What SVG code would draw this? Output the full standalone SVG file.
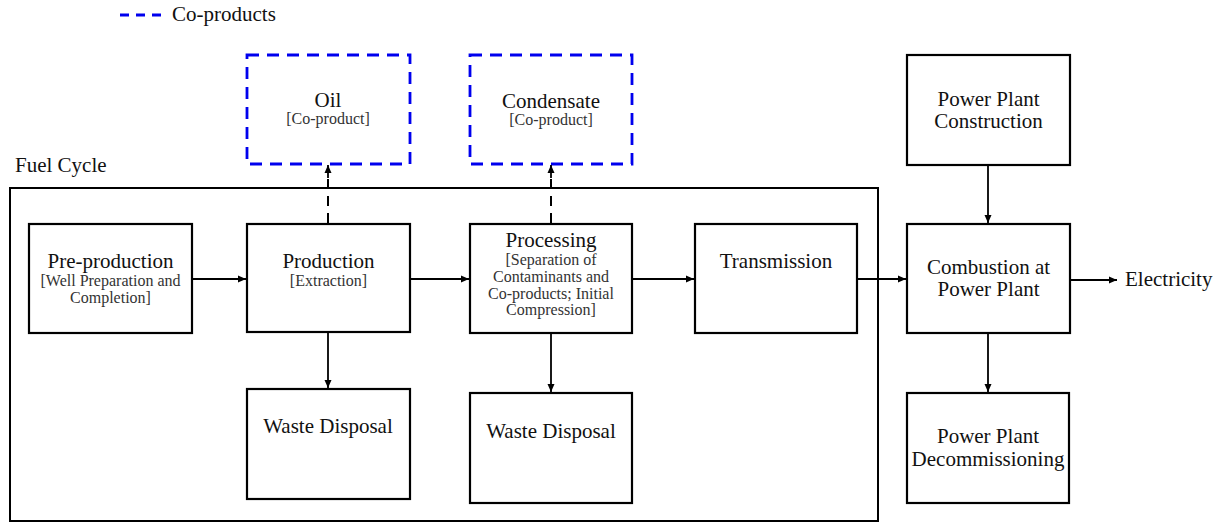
<svg xmlns="http://www.w3.org/2000/svg" width="1220" height="523" viewBox="0 0 1220 523" font-family="'Liberation Serif', 'Times New Roman', serif">
<style>
.box{fill:#fff;stroke:#000;stroke-width:2.2}
.co{fill:none;stroke:#0000ee;stroke-width:2.8;stroke-dasharray:12 8}
.frame{fill:none;stroke:#000;stroke-width:2}
text{font-family:'Liberation Serif','Times New Roman',serif}
.t{font-size:21px;fill:#111;text-anchor:middle}
.s{font-size:16px;fill:#333;text-anchor:middle}
.l{font-size:21px;fill:#111}
.c{fill:none;stroke:#000;stroke-width:1.8}
.d{fill:none;stroke:#000;stroke-width:2;stroke-dasharray:10 7}
</style>
<defs>
<marker id="ah" markerWidth="8" markerHeight="8" refX="8" refY="4" orient="auto" markerUnits="userSpaceOnUse">
<path d="M0,0.5 L8,4 L0,7.5 Z" fill="#000"/>
</marker>
</defs>

<g id="legend">
<line x1="120" y1="15" x2="162" y2="15" stroke="#0000ee" stroke-width="3" stroke-dasharray="9 7"/>
<text class="l" x="172" y="21">Co-products</text>
</g>

<g id="fuel-cycle">
<rect class="frame" x="10" y="188" width="868" height="333"/>
<text class="l" x="15" y="172">Fuel Cycle</text>
</g>

<g id="oil">
<rect class="co" x="247" y="55" width="163" height="109"/>
<text class="t" x="328" y="107">Oil</text>
<text class="s" x="328" y="124">[Co-product]</text>
</g>

<g id="condensate">
<rect class="co" x="470" y="55" width="162" height="109"/>
<text class="t" x="551" y="108">Condensate</text>
<text class="s" x="551" y="125">[Co-product]</text>
</g>

<g id="preproduction">
<rect class="box" x="29" y="224" width="163" height="109"/>
<text class="t" x="110.5" y="268">Pre-production</text>
<text class="s" x="110.5" y="286">[Well Preparation and</text>
<text class="s" x="110.5" y="303">Completion]</text>
</g>

<g id="production">
<rect class="box" x="247" y="224" width="163" height="108"/>
<text class="t" x="328.5" y="268">Production</text>
<text class="s" x="328.5" y="286">[Extraction]</text>
</g>

<g id="processing">
<rect class="box" x="470" y="224" width="162" height="109"/>
<text class="t" x="551" y="247">Processing</text>
<text class="s" x="551" y="265">[Separation of</text>
<text class="s" x="551" y="282">Contaminants and</text>
<text class="s" x="551" y="299">Co-products; Initial</text>
<text class="s" x="551" y="315">Compression]</text>
</g>

<g id="transmission">
<rect class="box" x="695" y="224" width="162" height="109"/>
<text class="t" x="776" y="268">Transmission</text>
</g>

<g id="waste1">
<rect class="box" x="247" y="389" width="163" height="110"/>
<text class="t" x="328" y="433">Waste Disposal</text>
</g>

<g id="waste2">
<rect class="box" x="470" y="393" width="162" height="110"/>
<text class="t" x="551" y="438">Waste Disposal</text>
</g>

<g id="construction">
<rect class="box" x="907" y="55" width="163" height="110"/>
<text class="t" x="988.5" y="106">Power Plant</text>
<text class="t" x="988.5" y="128">Construction</text>
</g>

<g id="combustion">
<rect class="box" x="907" y="224" width="163" height="109"/>
<text class="t" x="988.5" y="274">Combustion at</text>
<text class="t" x="988.5" y="296">Power Plant</text>
</g>

<g id="decommissioning">
<rect class="box" x="907" y="393" width="162" height="110"/>
<text class="t" x="988" y="443">Power Plant</text>
<text class="t" x="988" y="466">Decommissioning</text>
</g>

<g id="electricity">
<text class="l" x="1125" y="286">Electricity</text>
</g>

<g id="connectors">
<line class="c" x1="192" y1="279" x2="246" y2="279" marker-end="url(#ah)"/>
<line class="c" x1="410" y1="279" x2="469" y2="279" marker-end="url(#ah)"/>
<line class="c" x1="632" y1="279" x2="694" y2="279" marker-end="url(#ah)"/>
<line class="c" x1="857" y1="279" x2="906" y2="279" marker-end="url(#ah)"/>
<line class="c" x1="1070" y1="280" x2="1117" y2="280" marker-end="url(#ah)" stroke-width="2.2"/>
<line class="c" x1="328" y1="332" x2="328" y2="388" marker-end="url(#ah)"/>
<line class="c" x1="551" y1="333" x2="551" y2="392" marker-end="url(#ah)"/>
<line class="c" x1="988" y1="165" x2="988" y2="223" marker-end="url(#ah)"/>
<line class="c" x1="988" y1="333" x2="988" y2="392" marker-end="url(#ah)"/>
<line class="d" x1="328" y1="223" x2="328" y2="174"/>
<line class="c" x1="328" y1="178" x2="328" y2="165" marker-end="url(#ah)"/>
<line class="d" x1="551" y1="223" x2="551" y2="174"/>
<line class="c" x1="551" y1="178" x2="551" y2="165" marker-end="url(#ah)"/>
</g>
</svg>
